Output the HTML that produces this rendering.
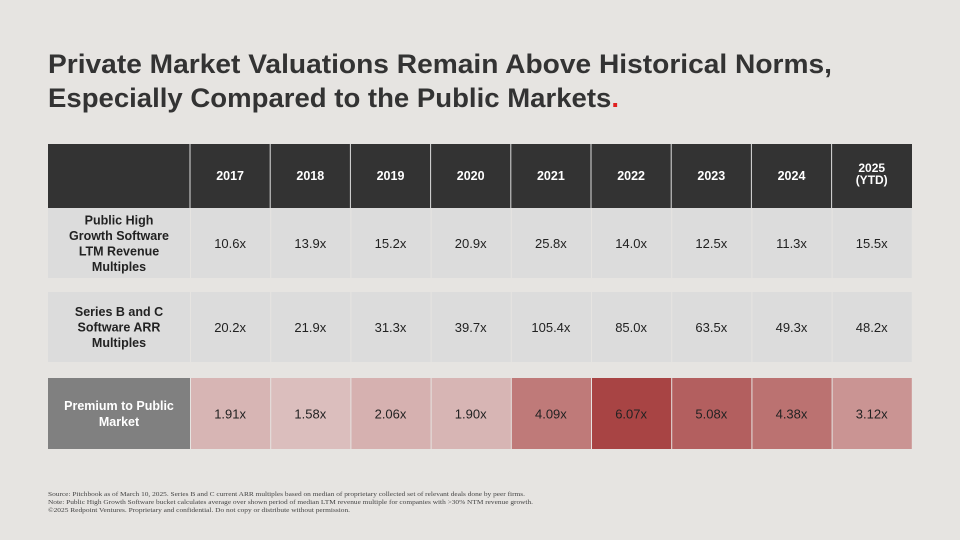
<!DOCTYPE html>
<html><head><meta charset="utf-8"><style>
body{margin:0;background:#e6e4e1;}
svg{display:block;font-family:"Liberation Sans",sans-serif;}
</style></head><body>
<svg id="c" width="960" height="540" viewBox="0 0 960 540">
<rect width="960" height="540" fill="#e6e4e1"/>
<text x="48" y="73" font-size="27" font-weight="bold" fill="#333" textLength="784" lengthAdjust="spacingAndGlyphs">Private Market Valuations Remain Above Historical Norms,</text>
<text x="48" y="107" font-size="27" font-weight="bold" fill="#333" textLength="571" lengthAdjust="spacingAndGlyphs">Especially Compared to the Public Markets<tspan fill="#e02020">.</tspan></text>
<g id="tbl"></g>
<g font-family="Liberation Serif, serif" font-size="6.4" fill="#444">
<text x="48" y="496" textLength="477" lengthAdjust="spacingAndGlyphs">Source: Pitchbook as of March 10, 2025. Series B and C current ARR multiples based on median of proprietary collected set of relevant deals done by peer firms.</text>
<text x="48" y="504" textLength="485" lengthAdjust="spacingAndGlyphs">Note: Public High Growth Software bucket calculates average over shown period of median LTM revenue multiple for companies with &gt;30% NTM revenue growth.</text>
<text x="48" y="512" textLength="302" lengthAdjust="spacingAndGlyphs">©2025 Redpoint Ventures. Proprietary and confidential. Do not copy or distribute without permission.</text>
</g>
</svg>
<script>
const years=["2017","2018","2019","2020","2021","2022","2023","2024","2025"];
const publicMultiples=[10.6,13.9,15.2,20.9,25.8,14.0,12.5,11.3,15.5];
const seriesBCMultiples=[20.2,21.9,31.3,39.7,105.4,85.0,63.5,49.3,48.2];
const premiumValues=[1.91,1.58,2.06,1.90,4.09,6.07,5.08,4.38,3.12];
const NS="http://www.w3.org/2000/svg";
const g=document.getElementById('tbl');
const x0=190,colW=80.2,L=48;
function colX(i){return x0+i*colW;}
function mk(tag,attrs,parent){const e=document.createElementNS(NS,tag);for(const k in attrs)e.setAttribute(k,attrs[k]);(parent||g).appendChild(e);return e;}
function premColor(v){
  const lo=[220,192,191],hi=[168,68,68];
  const t=Math.max(0,Math.min(1,(v-1.5)/(6.07-1.5)));
  const c=lo.map((a,i)=>Math.round(a+(hi[i]-a)*t));
  return `rgb(${c[0]},${c[1]},${c[2]})`;
}
// header
const hdr=mk('rect',{x:L,y:144,width:864,height:64,fill:'#333333'});


years.forEach((y,i)=>{
  const cx=colX(i)+colW/2;
  const l=mk('line',{x1:colX(i),y1:144,x2:colX(i),y2:208,stroke:'#dddddd','stroke-width':1});
  
  
  if(y==="2025"){
    const t=mk('text',{x:cx,y:172,'text-anchor':'middle','font-size':12,'font-weight':'bold',fill:'#fff'});
    t.textContent="2025";
    
    
    const t2=mk('text',{x:cx,y:184,'text-anchor':'middle','font-size':12,'font-weight':'bold',fill:'#fff'});
    t2.textContent="(YTD)";
    
    
  } else {
    const t=mk('text',{x:cx,y:180,'text-anchor':'middle','font-size':12.5,'font-weight':'bold',fill:'#fff'});
    t.textContent=y;
    
    
  }
});
const rows=[
 {vals:publicMultiples,y:208,h:70,label:["Public High","Growth Software","LTM Revenue","Multiples"],fmt:v=>v.toFixed(1)+"x",name:'public-multiples-row'},
 {vals:seriesBCMultiples,y:292,h:70,label:["Series B and C","Software ARR","Multiples"],fmt:v=>v.toFixed(1)+"x",name:'series-bc-row'},
 {vals:premiumValues,y:378,h:71,label:["Premium to Public","Market"],fmt:v=>v.toFixed(2)+"x",name:'premium-row',prem:true}
];
rows.forEach(r=>{
  const lr=mk('rect',{x:L,y:r.y,width:x0-L,height:r.h,fill:r.prem?'#808080':'#dcdcdc'});
  
  
  const lh=r.label.length, lineH=r.prem?16:15.5;
  r.label.forEach((s,j)=>{
    const t=mk('text',{x:(L+x0)/2,y:r.y+r.h/2+(j-(lh-1)/2)*lineH+4.5,'text-anchor':'middle','font-size':12.5,'font-weight':'bold',fill:r.prem?'#fff':'#222'});
    t.textContent=s;
    
    
  });
  r.vals.forEach((v,i)=>{
    const c=mk('rect',{x:colX(i)+1,y:r.y,width:colW-1,height:r.h,fill:r.prem?premColor(v):'#dcdcdc'});
    
    
    const t=mk('text',{x:colX(i)+colW/2,y:r.y+r.h/2+5,'text-anchor':'middle','font-size':13,fill:'#222'});
    t.textContent=r.fmt(v);
    
    
  });
});
</script>
</body></html>
